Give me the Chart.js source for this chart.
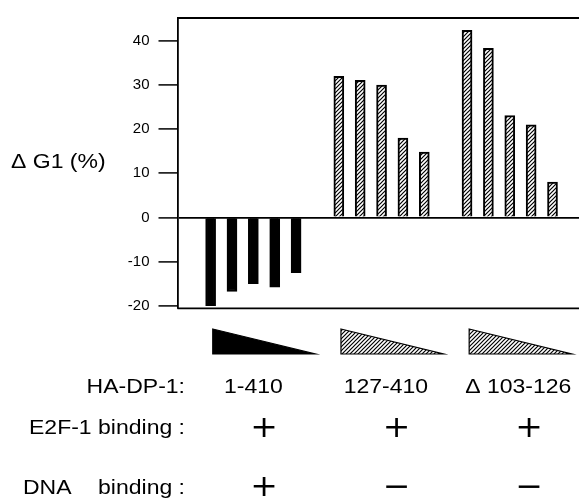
<!DOCTYPE html>
<html>
<head>
<meta charset="utf-8">
<script src="https://cdn.jsdelivr.net/npm/chart.js@4.4.1/dist/chart.umd.min.js"></script>
<style>
  body { margin: 0; background: #fff; }
</style>
</head>
<body>
<canvas id="g1Canvas" width="579" height="500"></canvas>
<script>
// values (delta G1 in %), 5 doses per construct
const constructs = ['1-410', '127-410', 'Δ 103-126'];
const e2fBinding = ['+', '+', '+'];
const dnaBinding = ['+', '−', '−'];
const fullLength = [-20, -16.8, -15, -15.8, -12.5];
const dp127 = [32, 31.1, 30, 18, 14.8];
const dpDelta = [42.4, 38.3, 23.1, 21, 8];
const tickValues = [-20, -10, 0, 10, 20, 30, 40];

const FONT = '"Liberation Sans", Arial, sans-serif';
Chart.defaults.font.family = FONT;
Chart.defaults.color = '#000';

const canvas = document.getElementById('g1Canvas');
const ctx = canvas.getContext('2d');

// diagonal hatching like the printed figure
function makeHatch() {
    const c = document.createElement('canvas');
    c.width = 4;
    c.height = 4;
    const p = c.getContext('2d');
    p.fillStyle = '#fff';
    p.fillRect(0, 0, 4, 4);
    p.strokeStyle = '#000';
    p.lineWidth = 1.2;
    p.beginPath();
    p.moveTo(0, 4); p.lineTo(4, 0);
    p.moveTo(-1, 1); p.lineTo(1, -1);
    p.moveTo(3, 5); p.lineTo(5, 3);
    p.stroke();
    return ctx.createPattern(c, 'repeat');
}
const hatch = makeHatch();

const groups = [fullLength, dp127, dpDelta];
// one empty slot between the groups
const slot = (g, i) => g * 6 + i + 1;

function drawText(c, str, x, y, align, font, sx) {
    c.save();
    c.font = font;
    c.textAlign = align;
    c.textBaseline = 'middle';
    c.fillStyle = '#000';
    c.translate(x, y);
    c.scale(sx, 1);
    c.fillText(str, 0, 0);
    c.restore();
}

const extras = {
    id: 'extras',
    afterDraw(chart) {
        const c = chart.ctx;
        const a = chart.chartArea;
        const xs = chart.scales.x;
        c.save();
        c.strokeStyle = '#000';
        c.lineWidth = 1.8;
        c.beginPath();
        c.moveTo(a.left, a.top); c.lineTo(a.right, a.top);
        c.moveTo(a.left, a.bottom); c.lineTo(a.right, a.bottom);
        c.stroke();

        const big = '20px ' + FONT;
        const sign = '30px "DejaVu Sans"';
        groups.forEach((vals, g) => {
            // dose triangle
            const l = xs.getPixelForValue(g * 6 + 1.1);
            const r = xs.getPixelForValue(g * 6 + 5.9);
            c.beginPath();
            c.moveTo(l, 329);
            c.lineTo(r, 354);
            c.lineTo(l, 354);
            c.closePath();
            c.fillStyle = g === 0 ? '#000' : hatch;
            c.fill();
            c.lineWidth = 1.2;
            c.stroke();

            const mid = xs.getPixelForValue(g * 6 + 3 + 0.2 * g);
            drawText(c, constructs[g], mid, 387, 'center', big, 1.15);
            const sx = xs.getPixelForValue(g * 6 + 3.5 + 0.2 * g);
            drawText(c, e2fBinding[g], sx, 429, 'center', sign, 1.1);
            drawText(c, dnaBinding[g], sx, 488, 'center', sign, 1.1);
        });

        drawText(c, 'Δ G1 (%)', 11, 162, 'left', big, 1.15);
        drawText(c, 'HA-DP-1:', 185, 387, 'right', big, 1.15);
        drawText(c, 'E2F-1 binding :', 185, 428, 'right', big, 1.15);
        drawText(c, 'DNA', 23, 488, 'left', big, 1.15);
        drawText(c, 'binding :', 185, 488, 'right', big, 1.15);
        c.restore();
    }
};

new Chart(ctx, {
    type: 'bar',
    data: {
        datasets: groups.map((vals, g) => ({
            data: vals.map((v, i) => ({ x: slot(g, i), y: v })),
            backgroundColor: g === 0 ? '#000' : hatch,
            borderColor: '#000',
            borderWidth: 2,
            barThickness: 10,
            grouped: false
        }))
    },
    options: {
        responsive: false,
        animation: false,
        layout: {
            padding: { top: 12.3, bottom: 191.7, left: 0, right: 0 }
        },
        plugins: {
            legend: { display: false },
            tooltip: { enabled: false }
        },
        scales: {
            x: {
                type: 'linear',
                display: false,
                offset: false,
                min: -0.55,
                max: 18.24
            },
            y: {
                min: -20.6,
                max: 45.2,
                afterBuildTicks: s => { s.ticks = tickValues.map(v => ({ value: v })); },
                afterFit: s => { s.width = 177.5; },
                grid: {
                    color: c => (c.tick && c.tick.value === 0 ? '#000' : 'rgba(0,0,0,0)'),
                    lineWidth: 1.8,
                    tickColor: '#000',
                    tickWidth: 1.5,
                    tickLength: 19
                },
                border: { display: true, color: '#000', width: 1.8 },
                ticks: { color: '#000', font: { size: 15 }, padding: 9 }
            }
        }
    },
    plugins: [extras]
});
</script>
</body>
</html>
